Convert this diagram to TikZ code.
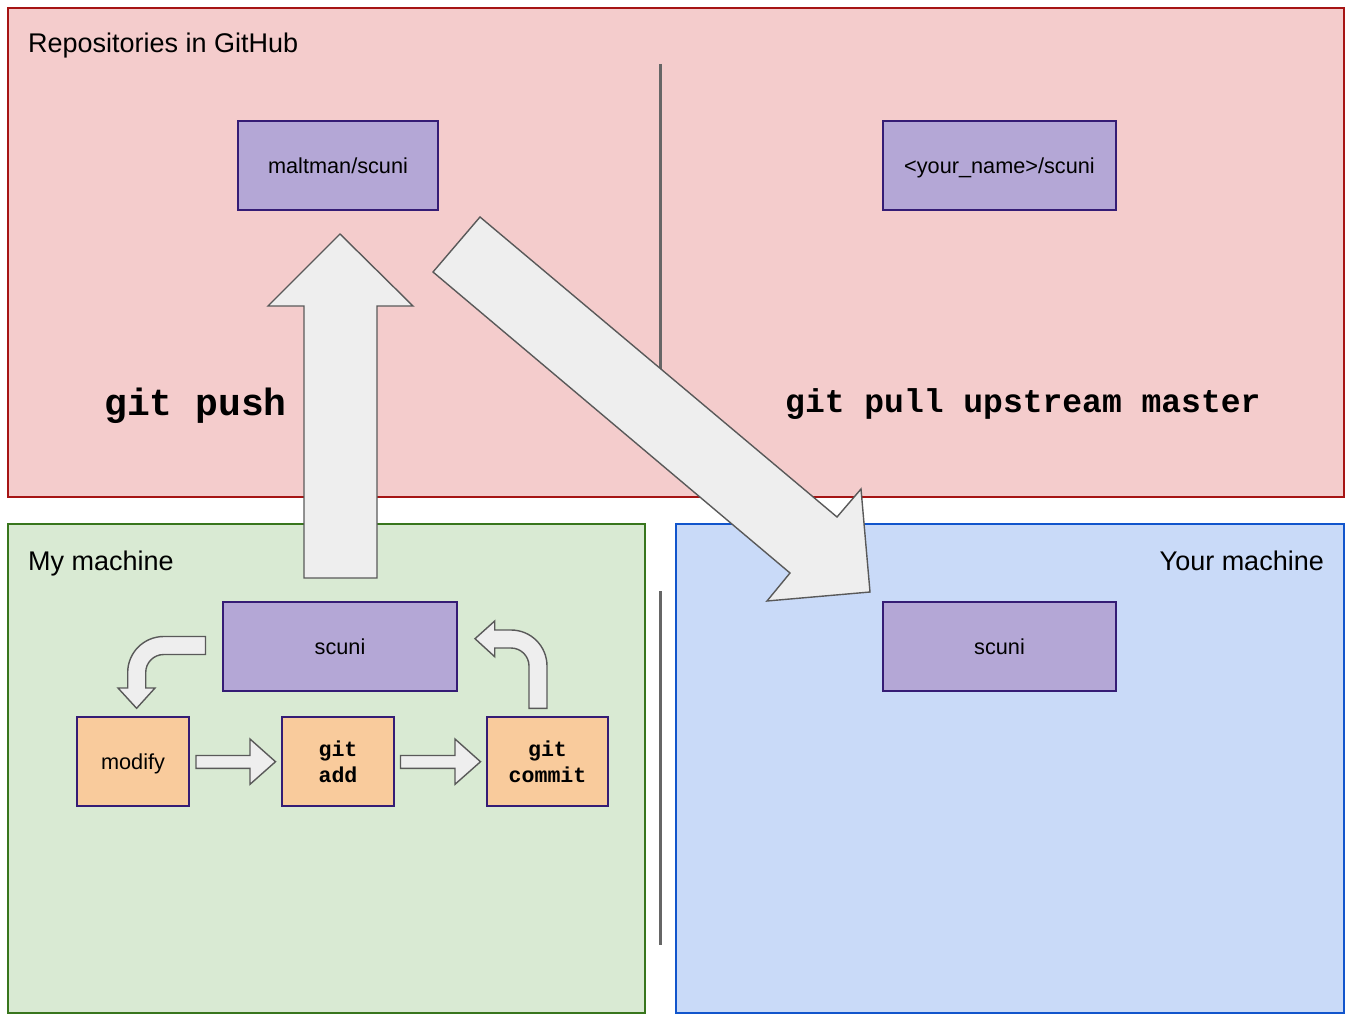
\documentclass[tikz,border=0pt]{standalone}
\usepackage{fontspec}
\setmainfont{Liberation Sans}
\setmonofont{Liberation Mono}
\definecolor{redline}{RGB}{166,20,20}
\definecolor{redfill}{HTML}{F4CCCC}
\definecolor{greenline}{HTML}{38761D}
\definecolor{greenfill}{HTML}{D9EAD3}
\definecolor{blueline}{HTML}{1155CC}
\definecolor{bluefill}{HTML}{C9DAF8}
\definecolor{purpleline}{HTML}{351C75}
\definecolor{purplefill}{HTML}{B4A7D6}
\definecolor{orangefill}{HTML}{F9CB9C}
\definecolor{arrowline}{HTML}{595959}
\definecolor{arrowfill}{HTML}{EEEEEE}
\definecolor{divider}{HTML}{666666}
\begin{document}
\begin{tikzpicture}[x=1pt,y=-1pt,
  panel/.style={line width=1.5pt, inner sep=0pt, outer sep=0pt},
  paneltitle/.style={inner sep=0pt, font=\fontsize{27}{32}\selectfont},
  repo/.style={draw=purpleline, fill=purplefill, line width=1.5pt, inner sep=0pt,
    minimum height=89pt, text height=15.6pt, text depth=0pt, font=\fontsize{21.7}{26}\selectfont},
  stepbox/.style={draw=purpleline, fill=orangefill, line width=1.5pt, inner sep=0pt,
    minimum height=89pt, align=center, font=\fontsize{21.7}{26}\selectfont},
  cmd/.style={inner sep=0pt, font=\ttfamily\bfseries},
  blockarrow/.style={draw=arrowline, fill=arrowfill, line width=1.4pt, line join=miter},
  divline/.style={draw=divider, line width=3pt}
]
\useasboundingbox (0,0) rectangle (1356,1024);

% panels
\node[panel, draw=redline, fill=redfill, minimum width=1336pt, minimum height=489pt] (github) at (676,252.5) {};
\node[panel, draw=greenline, fill=greenfill, minimum width=637pt, minimum height=489pt] (mine) at (326.5,768.5) {};
\node[panel, draw=blueline, fill=bluefill, minimum width=668pt, minimum height=489pt] (yours) at (1010,768.5) {};

\node[paneltitle, anchor=base west] (githubtitle) at (28,53) {Repositories in GitHub};
\node[paneltitle, anchor=base west] (minetitle) at (28,570) {My machine};
\node[paneltitle, anchor=base east] (yourstitle) at (1324,570) {Your machine};

% dividers
\coordinate (d1a) at (660,64);
\coordinate (d1b) at (660,400);
\coordinate (d2a) at (660,591);
\coordinate (d2b) at (660,945);
\draw[divline] (d1a) -- (d1b);
\draw[divline] (d2a) -- (d2b);

% repositories
\node[repo, minimum width=200pt] (maltman) at (338,165.5) {maltman/scuni};
\node[repo, minimum width=233pt] (yourname) at (999.5,165.5) {<your\_name>/scuni};
\node[repo, minimum width=234pt] (myscuni) at (340,646.5) {scuni};
\node[repo, minimum width=233pt] (yourscuni) at (999.5,646.5) {scuni};

% workflow steps
\node[stepbox, minimum width=112pt, text height=15.6pt, text depth=0pt] (modify) at (133,761.5) {modify};
\node[stepbox, minimum width=112pt, font=\fontsize{21.6}{26}\ttfamily\bfseries] (gitadd) at (338,761.5) {git\\add};
\node[stepbox, minimum width=121pt, font=\fontsize{21.6}{26}\ttfamily\bfseries] (gitcommit) at (547.5,761.5) {git\\commit};

% command labels
\node[cmd, anchor=base west, font=\fontsize{38}{44}\ttfamily\bfseries] (pushlabel) at (104,415) {git push};
\node[cmd, anchor=base west, font=\fontsize{33}{40}\ttfamily\bfseries] (pulllabel) at (785,412) {git pull upstream master};

% git push arrow
\draw[blockarrow] (340,234) -- (413,306) -- (377,306) -- (377,578) -- (304,578)
  -- (304,306) -- (268,306) -- cycle;

% git pull arrow
\draw[blockarrow] (480,217) -- (837,517) -- (861,489) -- (870,592) -- (767,601)
  -- (790,573) -- (433,272) -- cycle;

% small straight arrows
\draw[blockarrow] (196,755.5) -- (250,755.5) -- (250,739) -- (275.5,761.7) -- (250,784.3)
  -- (250,768.3) -- (196,768.3) -- cycle;
\draw[blockarrow] (400.5,755.5) -- (455,755.5) -- (455,739) -- (480.5,761.7) -- (455,784.3)
  -- (455,768.3) -- (400.5,768.3) -- cycle;

% curved arrow scuni -> modify
\draw[blockarrow] (205.5,636.5) -- (163.7,636.5)
  .. controls (143.8,636.5) and (127.7,652.6) .. (127.7,672.5)
  -- (127.7,688) -- (118,688) -- (136.6,708.3) -- (155,688) -- (145.7,688)
  -- (145.7,672.5) .. controls (145.7,662.6) and (153.8,654.5) .. (163.7,654.5)
  -- (205.5,654.5) -- cycle;

% curved arrow git commit -> scuni
\draw[blockarrow] (547,708.3) -- (547,666)
  .. controls (547,646.1) and (530.9,630) .. (511,630)
  -- (494.7,630) -- (494.7,621) -- (475,638.7) -- (494.7,656.7) -- (494.7,648)
  -- (511,648) .. controls (520.9,648) and (529,656.1) .. (529,666)
  -- (529,708.3) -- cycle;
\end{tikzpicture}
\end{document}
